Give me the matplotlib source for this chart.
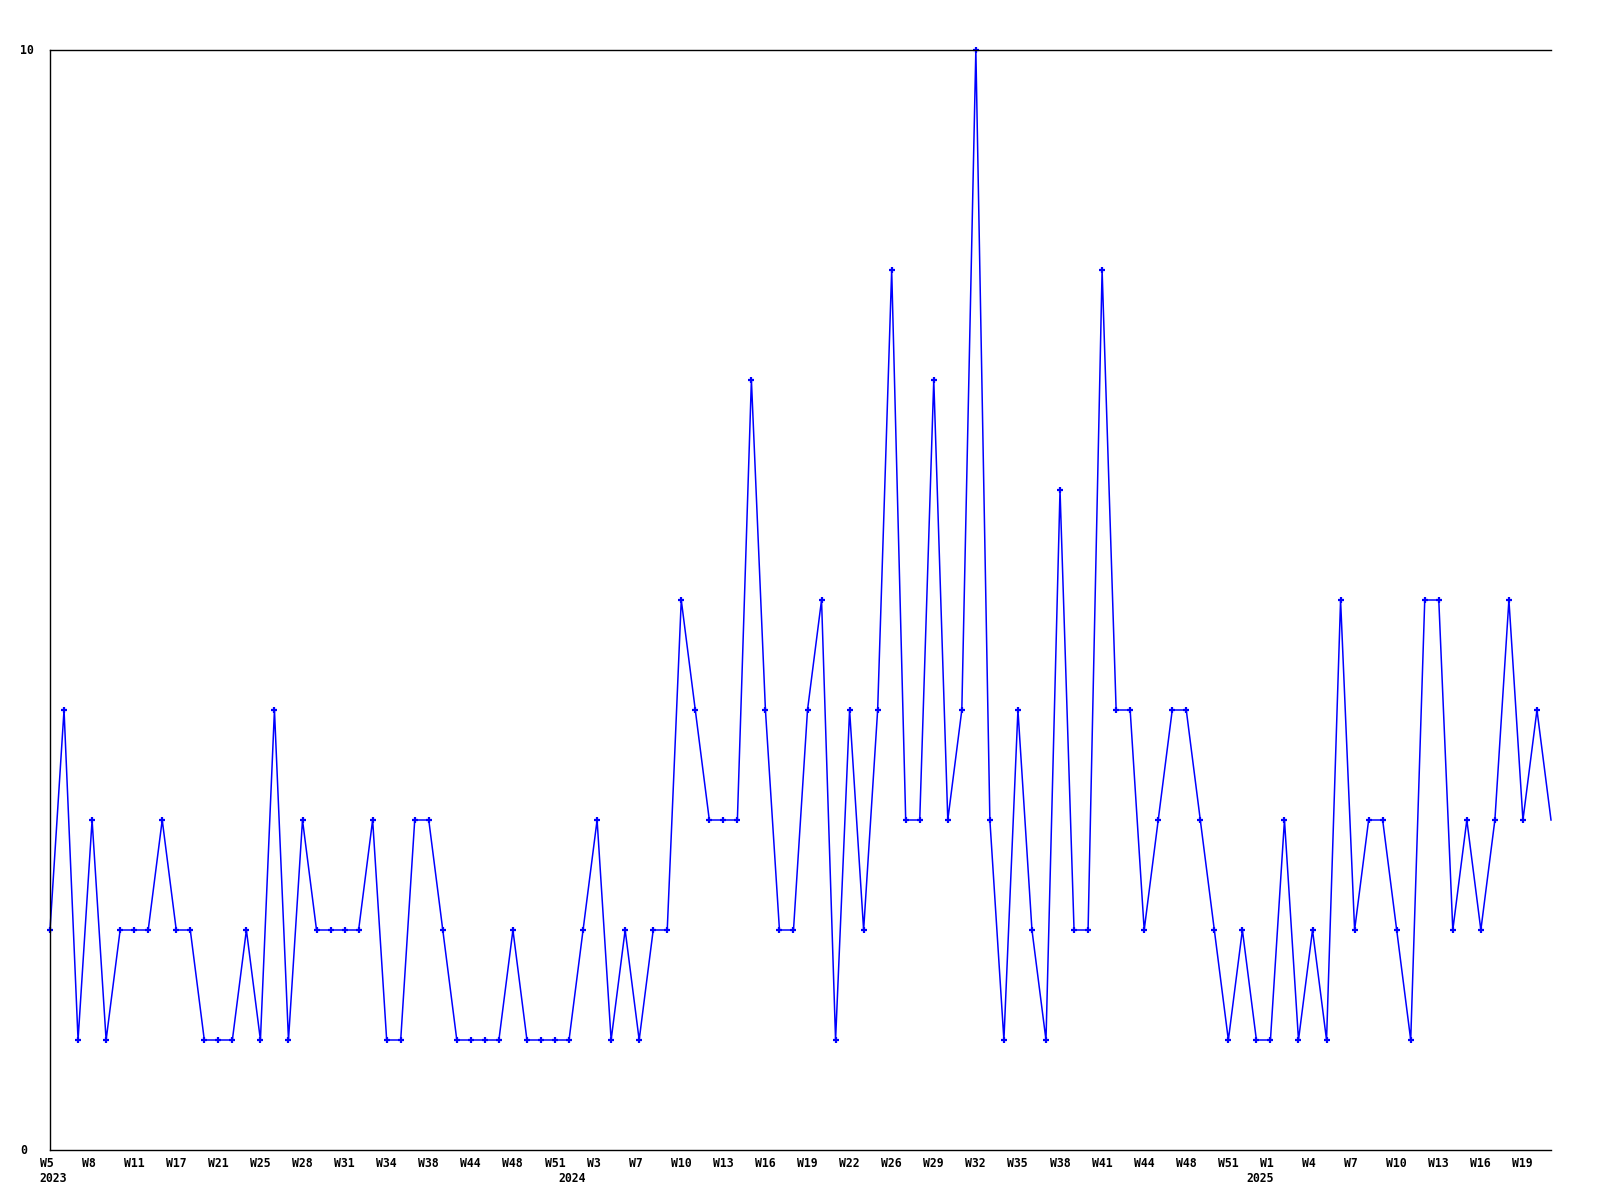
import matplotlib
matplotlib.use("Agg")
import matplotlib.pyplot as plt
import matplotlib.transforms as mtransforms

values = [2, 4, 1, 3, 1, 2, 2, 2, 3, 2, 2, 1, 1, 1, 2, 1, 4, 1, 3, 2,
          2, 2, 2, 3, 1, 1, 3, 3, 2, 1, 1, 1, 1, 2, 1, 1, 1, 1, 2, 3,
          1, 2, 1, 2, 2, 5, 4, 3, 3, 3, 7, 4, 2, 2, 4, 5, 1, 4, 2, 4,
          8, 3, 3, 7, 3, 4, 10, 3, 1, 4, 2, 1, 6, 2, 2, 8, 4, 4, 2, 3,
          4, 4, 3, 2, 1, 2, 1, 1, 3, 1, 2, 1, 5, 2, 3, 3, 2, 1, 5, 5,
          2, 3, 2, 3, 5, 3, 4, 3]

week_labels = ["W5", "W8", "W11", "W17", "W21", "W25", "W28", "W31", "W34",
               "W38", "W44", "W48", "W51", "W3", "W7", "W10", "W13", "W16",
               "W19", "W22", "W26", "W29", "W32", "W35", "W38", "W41", "W44",
               "W48", "W51", "W1", "W4", "W7", "W10", "W13", "W16", "W19"]
label_step = 3

years = ["2023", "2024", "2025"]
year_index = [0, 37, 86]

y_ticks = [0, 10]

fig = plt.figure(figsize=(16, 12), dpi=100)
ax = fig.add_axes([50 / 1600, 50 / 1200, 1501 / 1600, 1100 / 1200])

x = list(range(len(values)))
ax.plot(x, values, color="#0000ff", lw=1.1, marker="+", markersize=5,
        markeredgewidth=1.6, markevery=list(range(len(values) - 1)),
        clip_on=False)

ax.set_xlim(0, len(values) - 1)
ax.set_ylim(0, 10)
ax.set_xticks([])
ax.set_yticks([])
for s in ["left", "top", "bottom"]:
    ax.spines[s].set_color("black")
    ax.spines[s].set_linewidth(1.0)
ax.spines["right"].set_visible(False)

font = dict(family="DejaVu Sans Mono", fontweight="bold", fontsize=8.3,
            color="black")

def offset(dx, dy):
    return mtransforms.ScaledTranslation(dx / 100, dy / 100, fig.dpi_scale_trans)

xt = ax.get_xaxis_transform()
for i, lab in enumerate(week_labels):
    ax.text(i * label_step, 0, lab, transform=xt + offset(-10.5, -17),
            ha="left", va="baseline", **font)

for yr, idx in zip(years, year_index):
    ax.text(idx, 0, yr, transform=xt + offset(-10.5, -32),
            ha="left", va="baseline", **font)

yt = ax.get_yaxis_transform()
for v in y_ticks:
    ax.text(0, v, str(v), transform=yt + offset(-30, -4.5),
            ha="left", va="baseline", **font)

fig.savefig("out.png", dpi=100)
